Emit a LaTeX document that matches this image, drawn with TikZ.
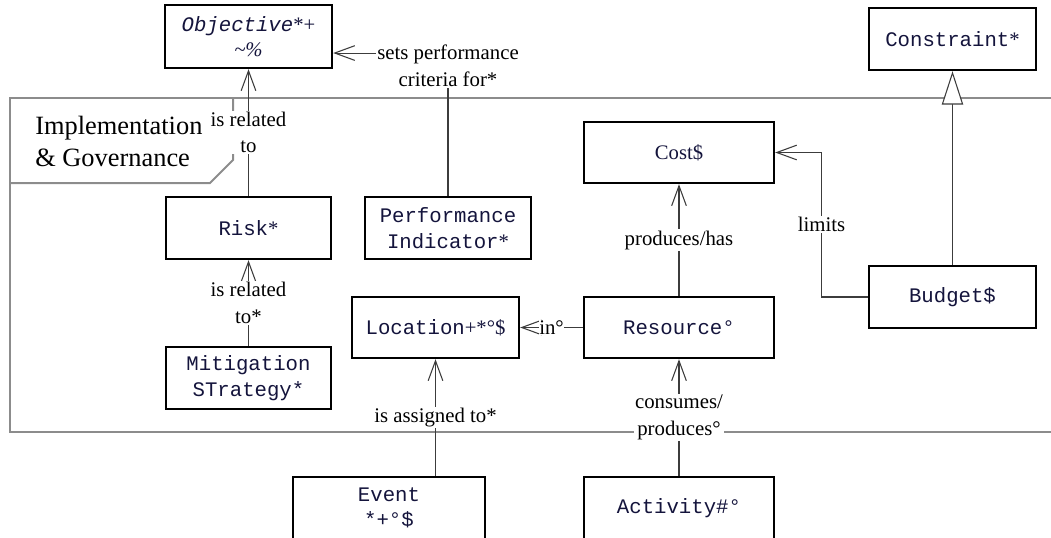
\documentclass[tikz,border=0pt]{standalone}
\usepackage{fontspec}
\setmainfont{Liberation Serif}
\newfontfamily\monofam{Liberation Mono}
\usetikzlibrary{arrows.meta,calc}
\definecolor{boxtext}{HTML}{14143C}
\definecolor{wire}{HTML}{3C3C3C}
\definecolor{pkg}{HTML}{8C8C8C}

\begin{document}
\begin{tikzpicture}[x=0.75pt,y=-0.75pt,
  box/.style={draw=black, line width=1.8pt, fill=white, align=center,
    inner sep=0pt, text=boxtext, font=\fontsize{15.5}{19}\selectfont},
  sz/.style 2 args={minimum width=#1*0.75pt, minimum height=#2*0.75pt},
  lbl/.style={fill=white, inner sep=1pt, align=center, text=black,
    font=\fontsize{15.6}{20}\selectfont},
  assoc/.style={draw=wire, line width=0.8pt,
    -{Straight Barb[length=15pt, width=11pt, line width=0.8pt]}},
  inherit/.style={draw=wire, line width=0.8pt,
    -{Triangle[open, length=25pt, width=16pt, line width=0.8pt, fill=white]}},
  frame/.style={draw=pkg, line width=1.5pt}
]
\useasboundingbox (0,0) rectangle (1051,537);

% package frame with its name tab
\draw[frame] (1060,98) -- (10,98) -- (10,432) -- (1060,432);
\draw[frame] (233,98) -- (233,160) -- (210,183) -- (10,183);
\node[anchor=west, align=left, inner sep=0pt,
  font=\fontsize{19.8}{24}\selectfont] (pkgname) at (35,141)
  {Implementation\\\& Governance};

% classes
\node[box, sz={167}{63}] (obj) at (248.5,36.5)
  {{\monofam\itshape Objective}*+\\\textit{\textasciitilde\%}};
\node[box, sz={167}{62}] (con) at (952.5,39) {{\monofam Constraint}*};
\node[box, sz={190}{61}] (cost) at (679,152.5) {Cost\$};
\node[box, sz={165}{62}] (risk) at (248.5,228) {{\monofam Risk}*};
\node[box, sz={166}{62}] (pi) at (448,228)
  {{\monofam Performance}\\{\monofam Indicator}*};
\node[box, sz={167}{62}] (bud) at (952.5,297) {{\monofam Budget\$}};
\node[box, sz={167}{61}] (loc) at (435.5,327.5) {{\monofam Location}+*°\$};
\node[box, sz={190}{61}] (res) at (679,327.5) {{\monofam Resource°}};
\node[box, sz={165}{62}] (mit) at (248.5,378)
  {{\monofam Mitigation}\\{\monofam STrategy*}};
\node[box, sz={192}{62}] (evt) at (389,508)
  {{\monofam Event}\\{\monofam *+°\$}};
\node[box, sz={190}{62}] (act) at (679,508) {{\monofam Activity\#°}};

% associations
\draw[assoc] (risk.north) -- node[lbl] {is related\\to} (obj.south);
\draw[assoc] (pi.north) |- node[lbl, pos=0.5, yshift=-9.75pt]
  {sets performance\\criteria for*} ([yshift=-12.4pt]obj.east);
\draw[assoc] (mit.north) -- node[lbl] {is related\\to*} (risk.south);
\draw[assoc] (res.north) -- node[lbl] {produces/has} (cost.south);
\draw[assoc] (res.west) -- node[lbl, inner sep=0.5pt] {in°} (loc.east);
\draw[assoc] (bud.west) -| ($(bud.west)!0.5!(cost.east)$) node[lbl] {limits}
  |- (cost.east);
\draw[assoc] (evt.north -| loc.south) -- node[lbl] {is assigned to*} (loc.south);
\draw[assoc] (act.north) -- node[lbl] {consumes/\\produces°} (res.south);

% generalisation
\draw[inherit] (bud.north) -- (con.south);
\end{tikzpicture}
\end{document}
